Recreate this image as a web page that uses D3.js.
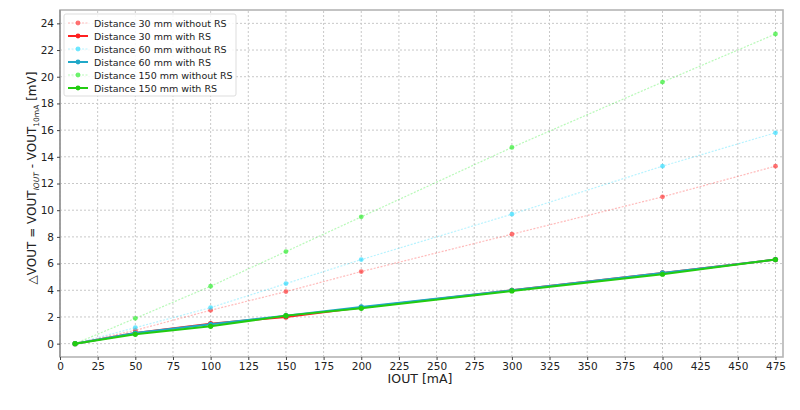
<!DOCTYPE html>
<html lang="en">
<head>
<meta charset="utf-8">
<title>Delta VOUT vs IOUT</title>
<script src="https://cdn.jsdelivr.net/npm/d3@7"></script>
<style>
  body { margin: 0; background: #fff; }
  text { font-family: "DejaVu Sans", sans-serif; fill: #222; }
  .grid line { stroke: #c8c8c8; stroke-dasharray: 2,2; }
  .axis path { stroke: #999; }
  .axis line { stroke: #444; }
</style>
</head>
<body>
<script>
var w = 800, h = 410;
var m = {top: 10, right: 17, bottom: 53, left: 60};

// data
var iout = [10, 50, 100, 150, 200, 300, 400, 475];
var d30noRS  = [0, 1.0, 2.5, 3.9, 5.4, 8.2, 11.0, 13.3];
var d30RS    = [0, 0.8, 1.5, 2.0, 2.7, 4.0, 5.3, 6.3];
var d60noRS  = [0, 1.2, 2.7, 4.5, 6.3, 9.7, 13.3, 15.8];
var d60RS    = [0, 0.8, 1.45, 2.1, 2.75, 4.0, 5.3, 6.3];
var d150noRS = [0, 1.9, 4.3, 6.9, 9.5, 14.7, 19.6, 23.2];
var d150RS   = [0, 0.7, 1.3, 2.1, 2.65, 3.95, 5.2, 6.3];
var xTicks = d3.range(0, 476, 25);
var yTicks = d3.range(0, 25, 2);

var series = [
  {name: "Distance 30 mm without RS", vals: d30noRS, color: "#ff3b3b", rs: false},
  {name: "Distance 30 mm with RS", vals: d30RS, color: "#ff2020", rs: true},
  {name: "Distance 60 mm without RS", vals: d60noRS, color: "#33ddff", rs: false},
  {name: "Distance 60 mm with RS", vals: d60RS, color: "#20a8c8", rs: true},
  {name: "Distance 150 mm without RS", vals: d150noRS, color: "#33ee33", rs: false},
  {name: "Distance 150 mm with RS", vals: d150RS, color: "#22cc11", rs: true}
];

var svg = d3.select("body").append("svg").attr("width", w).attr("height", h);

var x = d3.scaleLinear().domain([0, 480]).range([m.left, w - m.right]);
var y = d3.scaleLinear().domain([-1, 25]).range([h - m.bottom, m.top]);

// grid
var grid = svg.append("g").attr("class", "grid");
grid.selectAll(".gx").data(xTicks).enter().append("line")
  .attr("x1", function(d) { return x(d); }).attr("x2", function(d) { return x(d); })
  .attr("y1", y(-1)).attr("y2", y(25));
grid.selectAll(".gy").data(yTicks).enter().append("line")
  .attr("x1", x(0)).attr("x2", x(480))
  .attr("y1", function(d) { return y(d); }).attr("y2", function(d) { return y(d); });

// lines
var line = d3.line()
  .x(function(d, i) { return x(iout[i]); })
  .y(function(d) { return y(d); });

series.forEach(function(s) {
  svg.append("path")
    .attr("d", line(s.vals))
    .attr("fill", "none")
    .attr("stroke", s.color)
    .attr("stroke-width", s.rs ? 2 : 1.2)
    .attr("stroke-opacity", s.rs ? 1 : 0.35)
    .attr("stroke-dasharray", s.rs ? null : "2,1.5");
  svg.append("g").selectAll("circle")
    .data(s.vals).enter().append("circle")
    .attr("cx", function(d, i) { return x(iout[i]); })
    .attr("cy", function(d) { return y(d); })
    .attr("r", s.rs ? 2.6 : 2.4)
    .attr("fill", s.color)
    .attr("fill-opacity", s.rs ? 1 : 0.7);
});

// frame
svg.append("rect")
  .attr("x", x(0)).attr("y", y(25))
  .attr("width", x(480) - x(0)).attr("height", y(-1) - y(25))
  .attr("fill", "none").attr("stroke", "#b5b5b5").attr("stroke-width", 1.6);
svg.append("line").attr("x1", x(0)).attr("x2", x(0)).attr("y1", y(25)).attr("y2", y(-1))
  .attr("stroke", "#888").attr("stroke-width", 1.2);

// axes
var xAxis = svg.append("g").attr("class", "axis")
  .attr("transform", "translate(0," + y(-1) + ")")
  .call(d3.axisBottom(x).tickValues(xTicks).tickSize(3).tickPadding(3));
xAxis.select(".domain").remove();
xAxis.selectAll("text").style("font-size", "10.5px");

var yAxis = svg.append("g").attr("class", "axis")
  .attr("transform", "translate(" + x(0) + ",0)")
  .call(d3.axisLeft(y).tickValues(yTicks).tickSize(3).tickPadding(3));
yAxis.select(".domain").remove();
yAxis.selectAll("text").style("font-size", "10.5px");

// axis labels
svg.append("text")
  .attr("x", 420).attr("y", 383)
  .attr("text-anchor", "middle")
  .style("font-size", "12.5px")
  .text("IOUT [mA]");

var yl = svg.append("text")
  .attr("transform", "translate(36,178) rotate(-90)")
  .attr("text-anchor", "middle")
  .style("font-size", "12px");
yl.append("tspan").text("\u25B3VOUT = VOUT");
yl.append("tspan").attr("dy", 3).style("font-size", "7.5px").style("font-style", "italic").text("IOUT");
yl.append("tspan").attr("dy", -3).text(" - VOUT");
yl.append("tspan").attr("dy", 3).style("font-size", "7.5px").text("10mA");
yl.append("tspan").attr("dy", -3).text(" [mV]");

// legend
var lg = svg.append("g").attr("transform", "translate(64,14)");
lg.append("rect")
  .attr("width", 172).attr("height", 82).attr("rx", 2)
  .attr("fill", "#fff").attr("fill-opacity", 0.85)
  .attr("stroke", "#ddd");
series.forEach(function(s, i) {
  var ly = 9 + i * 13;
  lg.append("line")
    .attr("x1", 4).attr("x2", 24).attr("y1", ly).attr("y2", ly)
    .attr("stroke", s.color)
    .attr("stroke-width", s.rs ? 2 : 1.2)
    .attr("stroke-opacity", s.rs ? 1 : 0.35)
    .attr("stroke-dasharray", s.rs ? null : "2,1.5");
  lg.append("circle").attr("cx", 14).attr("cy", ly).attr("r", 2.4)
    .attr("fill", s.color).attr("fill-opacity", s.rs ? 1 : 0.7);
  lg.append("text")
    .attr("x", 30).attr("y", ly + 3.5)
    .style("font-size", "9.5px")
    .text(s.name);
});
</script>
</body>
</html>
